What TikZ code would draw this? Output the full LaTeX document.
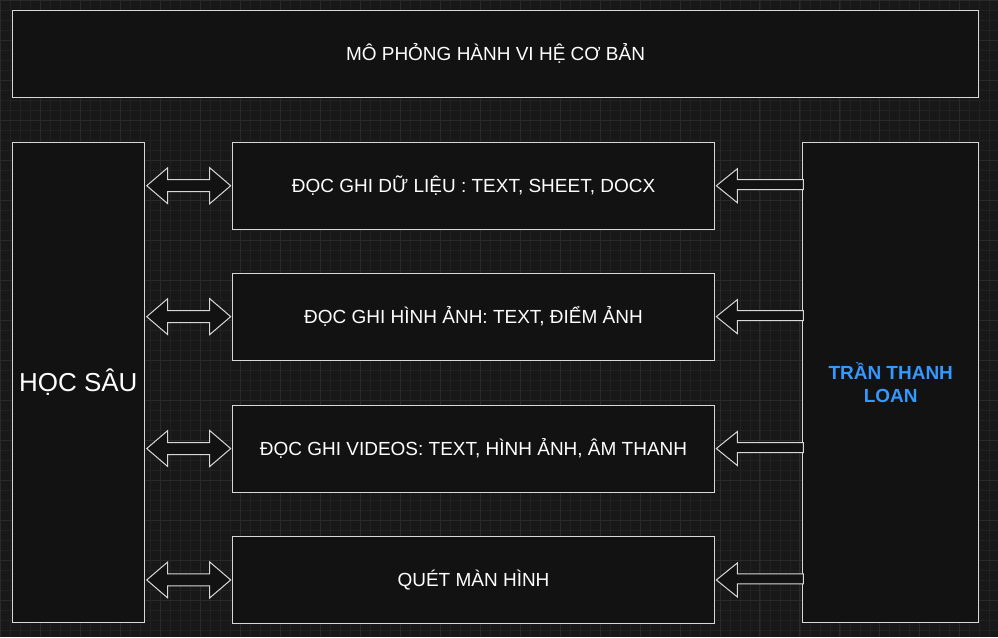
\documentclass[tikz,border=0pt]{standalone}
\usepackage{fontspec}
\setmainfont{Liberation Sans}
\definecolor{bgdark}{HTML}{181818}
\definecolor{gridfine}{HTML}{212121}
\definecolor{gridmajor}{HTML}{2A2A2A}
\definecolor{boxfill}{HTML}{121212}
\definecolor{edgegray}{HTML}{D8D8D8}
\definecolor{nameblue}{HTML}{3399FF}
\begin{document}
\begin{tikzpicture}[x=1pt,y=-1pt,
  box/.style={draw=edgegray,fill=boxfill,line width=1pt,inner sep=0pt,
    text=white,font=\fontsize{19}{23}\selectfont,align=center},
  shapearrow/.style={draw=edgegray,fill=boxfill,line width=1pt,line join=miter}]
  \fill[bgdark] (0,0) rectangle (998,637);
  \foreach \gx in {0,10,...,990} \draw[gridfine,line width=.5pt] (\gx,0) -- (\gx,637);
  \foreach \gy in {0,10,...,630} \draw[gridfine,line width=.5pt] (0,\gy) -- (998,\gy);
  \foreach \gx in {0,40,...,990} \draw[gridmajor,line width=.7pt] (\gx,0) -- (\gx,637);
  \foreach \gy in {0,40,...,630} \draw[gridmajor,line width=.7pt] (0,\gy) -- (998,\gy);
  \useasboundingbox (0,0) rectangle (998,637);
  % top banner
  \node[box,minimum width=967,minimum height=87] (title) at (495.5,53.5) {MÔ PHỎNG HÀNH VI HỆ CƠ BẢN};
  % side columns
  \node[box,minimum width=132,minimum height=481,font=\fontsize{26}{31}\selectfont] (deep) at (78,382.5) {HỌC SÂU};
  \node[box,minimum width=176,minimum height=481,text=nameblue,font=\fontsize{19}{24}\selectfont\bfseries] (author) at (891,382.5) {TRẦN THANH\\LOAN};
  % middle rows
  \node[box,minimum width=483,minimum height=87] (data) at (473.5,185.5) {ĐỌC GHI DỮ LIỆU : TEXT, SHEET, DOCX};
  \node[box,minimum width=483,minimum height=87] (image) at (473.5,316.5) {ĐỌC GHI HÌNH ẢNH: TEXT, ĐIỂM ẢNH};
  \node[box,minimum width=483,minimum height=87] (video) at (473.5,448.5) {ĐỌC GHI VIDEOS: TEXT, HÌNH ẢNH, ÂM THANH};
  \node[box,minimum width=483,minimum height=87] (screen) at (473.5,580) {QUÉT MÀN HÌNH};
  % hollow arrows
  \foreach \row in {data,image,video,screen}{
    \path (\row.west) coordinate (w) (\row.east) coordinate (e);
    \draw[shapearrow] ([xshift=-85]w) -- ++(21,-18) -- ++(0,12) -- ++(42,0) -- ++(0,-12)
      -- ++(21,18) -- ++(-21,18) -- ++(0,-12) -- ++(-42,0) -- ++(0,12) -- cycle;
    \draw[shapearrow] ([xshift=1]e) -- ++(21,-17) -- ++(0,11) -- ++(66,0) -- ++(0,10)
      -- ++(-66,0) -- ++(0,13) -- cycle;
  }
\end{tikzpicture}
\end{document}
